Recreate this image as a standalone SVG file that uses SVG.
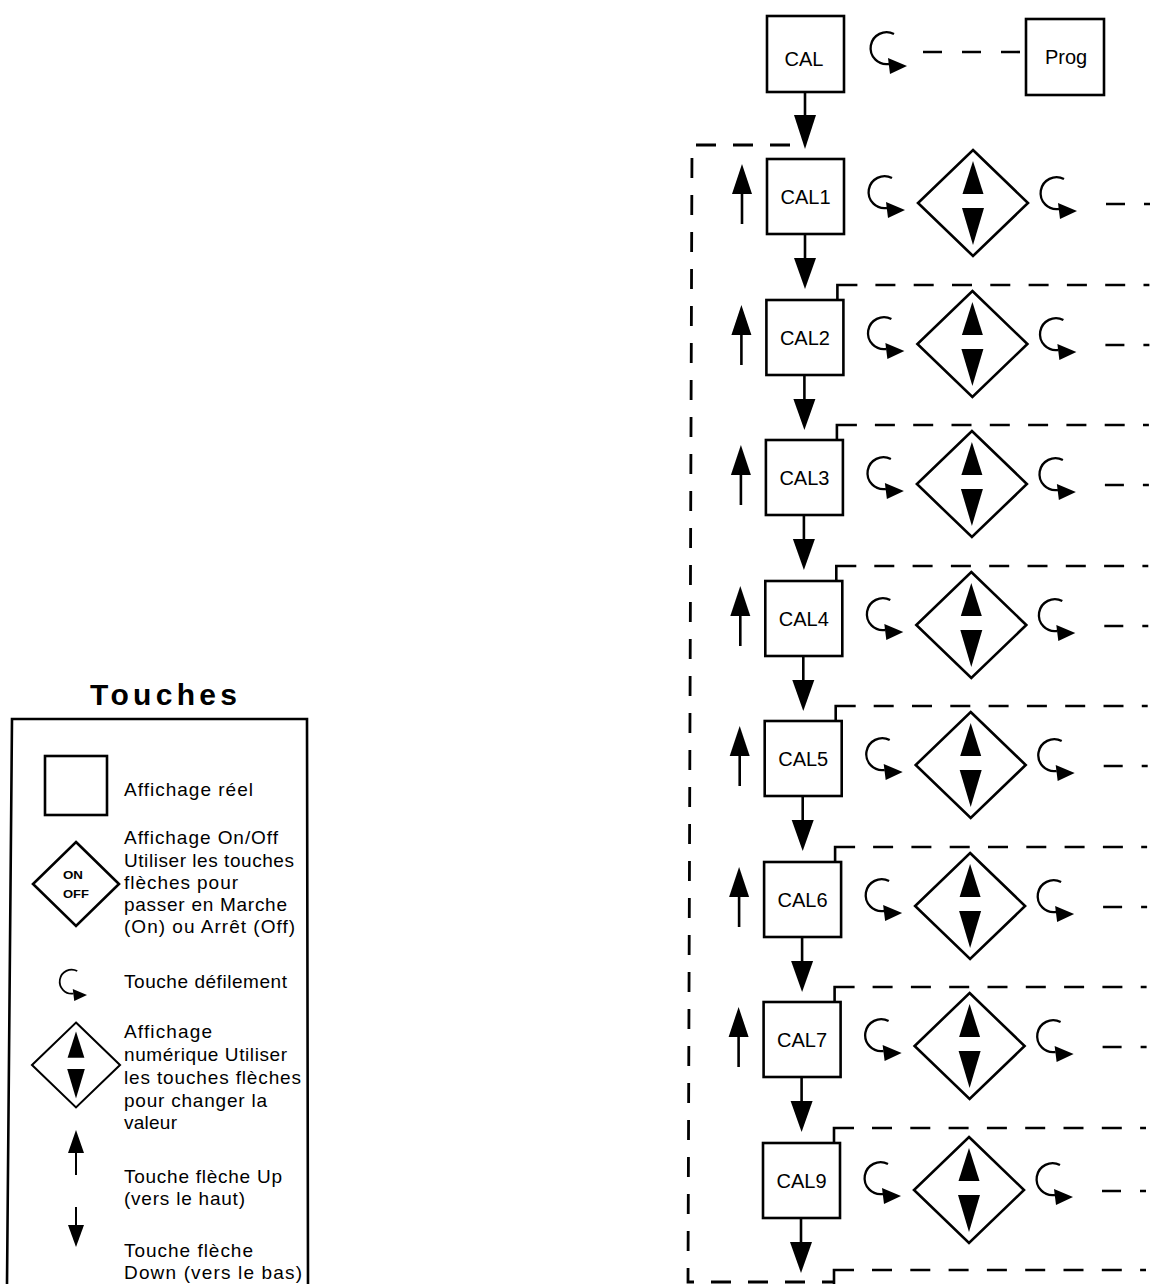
<svg xmlns="http://www.w3.org/2000/svg" xmlns:xlink="http://www.w3.org/1999/xlink" width="1150" height="1284" viewBox="0 0 1150 1284">
<style>
.box{fill:#fff;stroke:#000;stroke-width:2.6}
.dia{fill:#fff;stroke:#000;stroke-width:2.6;stroke-linejoin:miter}
.lbl{font-family:"Liberation Sans",Arial,sans-serif;font-size:20px;fill:#000;text-anchor:middle}
.leg{font-family:"Liberation Sans",Arial,sans-serif;font-size:19px;fill:#000}
.ttl{font-family:"Liberation Sans",Arial,sans-serif;font-size:30px;font-weight:bold;fill:#000}
.ln{stroke:#000;stroke-width:2.6;fill:none}
.dash{stroke:#000;stroke-width:2.6;fill:none;stroke-dasharray:20 18.3}
.dashv{stroke:#000;stroke-width:2.8;fill:none;stroke-dasharray:20 17}
.blk{fill:#000;stroke:none}
</style>
<defs>
<g id="scroll">
<path d="M 3,-16 A 16,16 0 1,0 -2,14" fill="none" stroke="#000" stroke-width="2.3"/>
<polygon points="-3,8 -1,24 16,16" fill="#000"/>
</g>
<g id="numdia">
<polygon class="dia" points="0,-53 55,0 0,53 -55,0"/>
<polygon class="blk" points="0,-42 -10.5,-9 10.5,-9"/>
<polygon class="blk" points="-11,5 11,5 0,42"/>
</g>
<g id="uparrow">
<line x1="0" y1="60" x2="0" y2="28" stroke="#000" stroke-width="2.6"/>
<polygon points="0,0 -10,30 10,30" fill="#000"/>
</g>
<g id="downarrow">
<line x1="0" y1="0" x2="0" y2="25" stroke="#000" stroke-width="2.6"/>
<polygon points="-11,24 11,24 0,55" fill="#000"/>
</g>
</defs>

<!-- Legend -->
<g id="legend">
<text class="ttl" x="90" y="705" textLength="147" lengthAdjust="spacing">Touches</text>
<path class="ln" d="M 7,1284 L 12,719 L 307,719 L 308,1284" stroke-width="2"/>
<rect class="box" x="45" y="756" width="62" height="59"/>
<text class="leg" x="124" y="796" textLength="129" lengthAdjust="spacing">Affichage réel</text>
<polygon class="dia" points="76,842 119,884 76,926 33,884" stroke-width="2.2"/>
<text x="73" y="879" font-family="Liberation Sans, Arial, sans-serif" font-size="11" font-weight="bold" text-anchor="middle" textLength="20" lengthAdjust="spacingAndGlyphs">ON</text>
<text x="76" y="898" font-family="Liberation Sans, Arial, sans-serif" font-size="11" font-weight="bold" text-anchor="middle" textLength="26" lengthAdjust="spacingAndGlyphs">OFF</text>
<text class="leg" x="124" y="844" textLength="154" lengthAdjust="spacing">Affichage On/Off</text>
<text class="leg" x="124" y="867" textLength="170" lengthAdjust="spacing">Utiliser les touches</text>
<text class="leg" x="124" y="889" textLength="114" lengthAdjust="spacing">flèches pour</text>
<text class="leg" x="124" y="911" textLength="163" lengthAdjust="spacing">passer en Marche</text>
<text class="leg" x="124" y="933" textLength="171" lengthAdjust="spacing">(On) ou Arrêt (Off)</text>
<use href="#scroll" xlink:href="#scroll" transform="translate(75,983) scale(0.75)"/>
<text class="leg" x="124" y="988" textLength="163" lengthAdjust="spacing">Touche défilement</text>
<use href="#numdia" xlink:href="#numdia" transform="translate(76,1065) scale(0.8)"/>
<text class="leg" x="124" y="1038" textLength="88" lengthAdjust="spacing">Affichage</text>
<text class="leg" x="124" y="1061" textLength="163" lengthAdjust="spacing">numérique Utiliser</text>
<text class="leg" x="124" y="1084" textLength="177" lengthAdjust="spacing">les touches flèches</text>
<text class="leg" x="124" y="1107" textLength="143" lengthAdjust="spacing">pour changer la</text>
<text class="leg" x="124" y="1129" textLength="53" lengthAdjust="spacing">valeur</text>
<line x1="76" y1="1175" x2="76" y2="1150" stroke="#000" stroke-width="2"/>
<polygon points="76,1130 68,1153 84,1153" fill="#000"/>
<text class="leg" x="124" y="1183" textLength="158" lengthAdjust="spacing">Touche flèche Up</text>
<text class="leg" x="124" y="1205" textLength="121" lengthAdjust="spacing">(vers le haut)</text>
<line x1="76" y1="1207" x2="76" y2="1228" stroke="#000" stroke-width="2"/>
<polygon points="68,1225 84,1225 76,1247" fill="#000"/>
<text class="leg" x="124" y="1257" textLength="129" lengthAdjust="spacing">Touche flèche</text>
<text class="leg" x="124" y="1279" textLength="178" lengthAdjust="spacing">Down (vers le bas)</text>
</g>

<!-- Connectors -->
<g id="connectors">
<line class="ln" x1="805" y1="92" x2="805" y2="116"/>
<polygon class="blk" points="794,115 816,115 805,149"/>
<use href="#scroll" xlink:href="#scroll" transform="translate(891,50)"/>
<line class="ln" x1="923" y1="52" x2="1026" y2="52" style="stroke-dasharray:19 20"/>
<path class="dashv" d="M 790,145 L 692,145 L 688,1282 L 834,1282"/>

<g transform="translate(0,159)">
<use href="#downarrow" xlink:href="#downarrow" x="805" y="75"/>
<use href="#uparrow" xlink:href="#uparrow" x="742" y="5"/>
<use href="#scroll" xlink:href="#scroll" x="889" y="35"/>
<use href="#scroll" xlink:href="#scroll" x="1061" y="36"/>
<line class="ln" x1="1106" y1="45" x2="1150" y2="45" style="stroke-dasharray:19 19"/>
</g>
<g transform="translate(-0.6,300)">
<path class="ln" d="M 838,0 L 838,-15 L 858,-15"/><line class="dash" x1="876" y1="-15" x2="1150" y2="-15"/>
<use href="#downarrow" xlink:href="#downarrow" x="805" y="75"/>
<use href="#uparrow" xlink:href="#uparrow" x="742" y="5"/>
<use href="#scroll" xlink:href="#scroll" x="889" y="35"/>
<use href="#scroll" xlink:href="#scroll" x="1061" y="36"/>
<line class="ln" x1="1106" y1="45" x2="1150" y2="45" style="stroke-dasharray:19 19"/>
</g>
<g transform="translate(-1.1,440)">
<path class="ln" d="M 838,0 L 838,-15 L 858,-15"/><line class="dash" x1="876" y1="-15" x2="1150" y2="-15"/>
<use href="#downarrow" xlink:href="#downarrow" x="805" y="75"/>
<use href="#uparrow" xlink:href="#uparrow" x="742" y="5"/>
<use href="#scroll" xlink:href="#scroll" x="889" y="35"/>
<use href="#scroll" xlink:href="#scroll" x="1061" y="36"/>
<line class="ln" x1="1106" y1="45" x2="1150" y2="45" style="stroke-dasharray:19 19"/>
</g>
<g transform="translate(-1.7,581)">
<path class="ln" d="M 838,0 L 838,-15 L 858,-15"/><line class="dash" x1="876" y1="-15" x2="1150" y2="-15"/>
<use href="#downarrow" xlink:href="#downarrow" x="805" y="75"/>
<use href="#uparrow" xlink:href="#uparrow" x="742" y="5"/>
<use href="#scroll" xlink:href="#scroll" x="889" y="35"/>
<use href="#scroll" xlink:href="#scroll" x="1061" y="36"/>
<line class="ln" x1="1106" y1="45" x2="1150" y2="45" style="stroke-dasharray:19 19"/>
</g>
<g transform="translate(-2.3,721)">
<path class="ln" d="M 838,0 L 838,-15 L 858,-15"/><line class="dash" x1="876" y1="-15" x2="1150" y2="-15"/>
<use href="#downarrow" xlink:href="#downarrow" x="805" y="75"/>
<use href="#uparrow" xlink:href="#uparrow" x="742" y="5"/>
<use href="#scroll" xlink:href="#scroll" x="889" y="35"/>
<use href="#scroll" xlink:href="#scroll" x="1061" y="36"/>
<line class="ln" x1="1106" y1="45" x2="1150" y2="45" style="stroke-dasharray:19 19"/>
</g>
<g transform="translate(-2.9,862)">
<path class="ln" d="M 838,0 L 838,-15 L 858,-15"/><line class="dash" x1="876" y1="-15" x2="1150" y2="-15"/>
<use href="#downarrow" xlink:href="#downarrow" x="805" y="75"/>
<use href="#uparrow" xlink:href="#uparrow" x="742" y="5"/>
<use href="#scroll" xlink:href="#scroll" x="889" y="35"/>
<use href="#scroll" xlink:href="#scroll" x="1061" y="36"/>
<line class="ln" x1="1106" y1="45" x2="1150" y2="45" style="stroke-dasharray:19 19"/>
</g>
<g transform="translate(-3.4,1002)">
<path class="ln" d="M 838,0 L 838,-15 L 858,-15"/><line class="dash" x1="876" y1="-15" x2="1150" y2="-15"/>
<use href="#downarrow" xlink:href="#downarrow" x="805" y="75"/>
<use href="#uparrow" xlink:href="#uparrow" x="742" y="5"/>
<use href="#scroll" xlink:href="#scroll" x="889" y="35"/>
<use href="#scroll" xlink:href="#scroll" x="1061" y="36"/>
<line class="ln" x1="1106" y1="45" x2="1150" y2="45" style="stroke-dasharray:19 19"/>
</g>
<g transform="translate(-4,1143)">
<path class="ln" d="M 838,0 L 838,-15 L 858,-15"/><line class="dash" x1="876" y1="-15" x2="1150" y2="-15"/>
<use href="#downarrow" xlink:href="#downarrow" x="805" y="75"/>
<use href="#scroll" xlink:href="#scroll" x="889" y="37"/>
<use href="#scroll" xlink:href="#scroll" x="1061" y="38"/>
<line class="ln" x1="1106" y1="48" x2="1150" y2="48" style="stroke-dasharray:19 19"/>
</g>
<g transform="translate(-4,1284)">
<path class="ln" d="M 838,0 L 838,-14 L 858,-14"/><line class="dash" x1="876" y1="-14" x2="1150" y2="-14"/>
</g>
</g>

<!-- Nodes -->
<g id="node-cal">
<rect class="box" x="767" y="16" width="77" height="76"/>
<text class="lbl" x="804" y="66">CAL</text>
</g>
<g id="node-prog">
<rect class="box" x="1026" y="19" width="78" height="76"/>
<text class="lbl" x="1066" y="64">Prog</text>
</g>
<g id="node-cal1" transform="translate(0,159)">
<rect class="box" x="767" y="0" width="77" height="75"/>
<text class="lbl" x="805.5" y="45">CAL1</text>
</g>
<g id="node-dia1" transform="translate(0,159)"><use href="#numdia" xlink:href="#numdia" x="973" y="44"/></g>
<g id="node-cal2" transform="translate(-0.6,300)">
<rect class="box" x="767" y="0" width="77" height="75"/>
<text class="lbl" x="805.5" y="45">CAL2</text>
</g>
<g id="node-dia2" transform="translate(-0.6,300)"><use href="#numdia" xlink:href="#numdia" x="973" y="44"/></g>
<g id="node-cal3" transform="translate(-1.1,440)">
<rect class="box" x="767" y="0" width="77" height="75"/>
<text class="lbl" x="805.5" y="45">CAL3</text>
</g>
<g id="node-dia3" transform="translate(-1.1,440)"><use href="#numdia" xlink:href="#numdia" x="973" y="44"/></g>
<g id="node-cal4" transform="translate(-1.7,581)">
<rect class="box" x="767" y="0" width="77" height="75"/>
<text class="lbl" x="805.5" y="45">CAL4</text>
</g>
<g id="node-dia4" transform="translate(-1.7,581)"><use href="#numdia" xlink:href="#numdia" x="973" y="44"/></g>
<g id="node-cal5" transform="translate(-2.3,721)">
<rect class="box" x="767" y="0" width="77" height="75"/>
<text class="lbl" x="805.5" y="45">CAL5</text>
</g>
<g id="node-dia5" transform="translate(-2.3,721)"><use href="#numdia" xlink:href="#numdia" x="973" y="44"/></g>
<g id="node-cal6" transform="translate(-2.9,862)">
<rect class="box" x="767" y="0" width="77" height="75"/>
<text class="lbl" x="805.5" y="45">CAL6</text>
</g>
<g id="node-dia6" transform="translate(-2.9,862)"><use href="#numdia" xlink:href="#numdia" x="973" y="44"/></g>
<g id="node-cal7" transform="translate(-3.4,1002)">
<rect class="box" x="767" y="0" width="77" height="75"/>
<text class="lbl" x="805.5" y="45">CAL7</text>
</g>
<g id="node-dia7" transform="translate(-3.4,1002)"><use href="#numdia" xlink:href="#numdia" x="973" y="44"/></g>
<g id="node-cal9" transform="translate(-4,1143)">
<rect class="box" x="767" y="0" width="77" height="75"/>
<text class="lbl" x="805.5" y="45">CAL9</text>
</g>
<g id="node-dia9" transform="translate(-4,1143)"><use href="#numdia" xlink:href="#numdia" x="973" y="47"/></g>
</svg>
